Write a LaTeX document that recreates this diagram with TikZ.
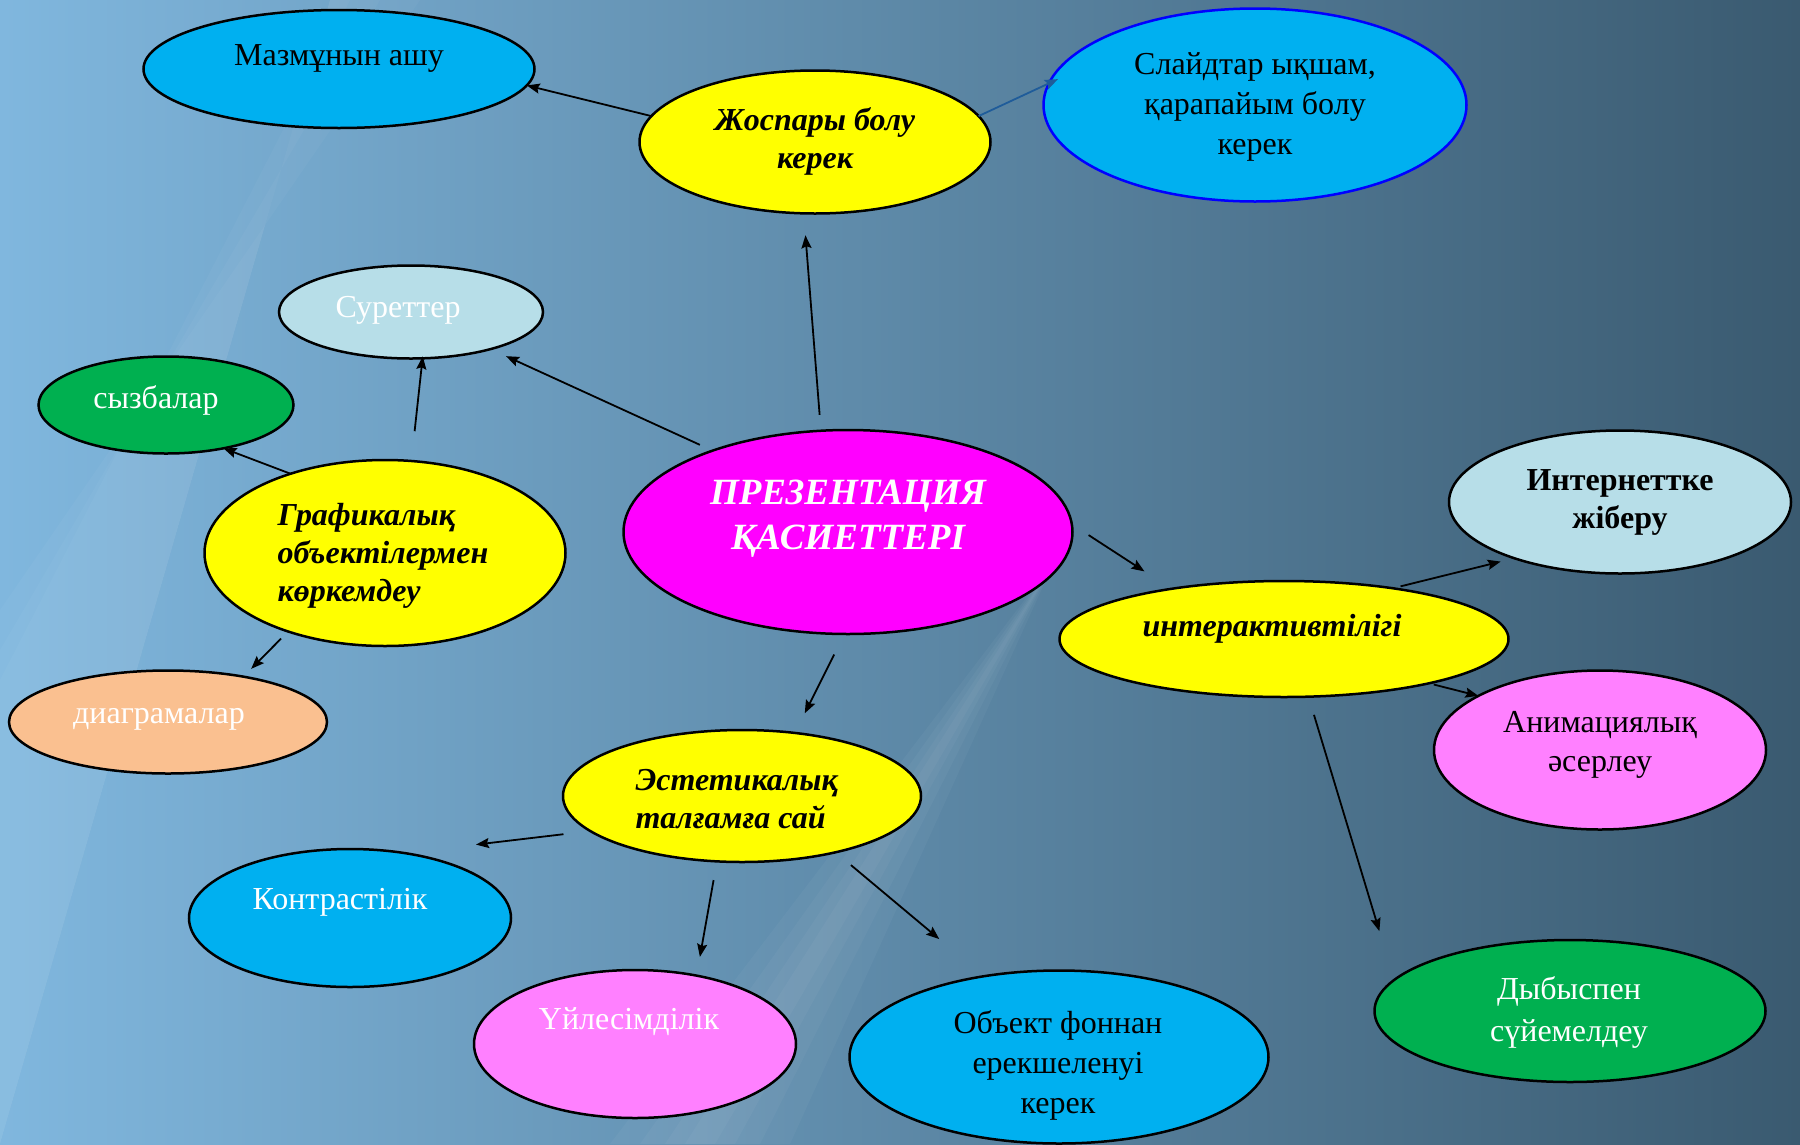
\documentclass[tikz,border=0pt]{standalone}
\usepackage{fontspec}
\setmainfont{Liberation Serif}
\usetikzlibrary{arrows.meta,shapes.geometric}

\definecolor{bgleft}{HTML}{80B7DE}
\definecolor{bgmid}{HTML}{5B87A5}
\definecolor{bgright}{HTML}{3A5A70}
\definecolor{skyfill}{HTML}{00B0F0}
\definecolor{sunfill}{HTML}{FFFF00}
\definecolor{rosefill}{HTML}{FF00FF}
\definecolor{icefill}{HTML}{B7DEE8}
\definecolor{leaffill}{HTML}{00B050}
\definecolor{peachfill}{HTML}{FAC090}
\definecolor{pinkfill}{HTML}{FF80FF}
\definecolor{steelline}{HTML}{1F5C9A}

\begin{document}
\begin{tikzpicture}[x=1pt,y=-1pt]
\tikzset{bubble/.style={ellipse,draw=black,line width=2.5pt,inner sep=0pt,outer sep=0pt}}
\tikzset{link/.style={-{Stealth[length=13pt,width=10pt,inset=2pt]},line width=1.8pt}}
\tikzset{plain/.style={font=\fontsize{32}{40}\selectfont,align=center}}
\tikzset{strong/.style={font=\fontsize{32}{38}\selectfont\bfseries\itshape,align=center}}

% background
\useasboundingbox (0,0) rectangle (1800,1144);
\shade[left color=bgleft,middle color=bgmid,right color=bgright] (0,0) rectangle (1800,1144);
\foreach \w in {15,35,60,90}
  \fill[white,opacity=0.035] (1055,560) -- ({700+\w},1144) -- ({700-\w},1144) -- cycle;
\foreach \w in {20,50,90}
  \fill[white,opacity=0.03] (0,1144) -- (0,{700-\w}) -- ({330+\w},0) -- (330,0) -- cycle;

% ellipses
\node[bubble,fill=skyfill,minimum width=391pt,minimum height=118pt] (mazm) at (339,69) {};
\node[bubble,fill=sunfill,minimum width=351pt,minimum height=143pt] (plan) at (815,142) {};
\node[bubble,draw=blue,fill=skyfill,minimum width=423pt,minimum height=193pt] (slide) at (1255,105) {};
\node[bubble,fill=icefill,minimum width=264pt,minimum height=93pt] (surr) at (411,312) {};
\node[bubble,fill=leaffill,minimum width=255pt,minimum height=97pt] (syzb) at (166,405) {};
\node[bubble,fill=sunfill,minimum width=361pt,minimum height=186pt] (graph) at (385,553) {};
\node[bubble,fill=rosefill,minimum width=449pt,minimum height=204pt] (prez) at (848,532) {};
\node[bubble,fill=peachfill,minimum width=318pt,minimum height=103pt] (diag) at (168,722) {};
\node[bubble,fill=sunfill,minimum width=449pt,minimum height=116pt] (inter) at (1284,639) {};
\node[bubble,fill=icefill,minimum width=342pt,minimum height=143pt] (web) at (1620,502) {};
\node[bubble,fill=pinkfill,minimum width=332pt,minimum height=159pt] (anim) at (1600,750) {};
\node[bubble,fill=sunfill,minimum width=358pt,minimum height=132pt] (est) at (742,796) {};
\node[bubble,fill=skyfill,minimum width=322pt,minimum height=138pt] (contr) at (350,918) {};
\node[bubble,fill=pinkfill,minimum width=322pt,minimum height=148pt] (uyl) at (635,1044) {};
\node[bubble,fill=skyfill,minimum width=419pt,minimum height=173pt] (obj) at (1059,1057) {};
\node[bubble,fill=leaffill,minimum width=391pt,minimum height=142pt] (dyb) at (1570,1011) {};

% texts
\node[plain] (mazm-t) at (339,58) {Мазмұнын ашу};
\node[strong] (plan-t) at (815,141) {Жоспары болу\\керек};
\node[plain] (slide-t) at (1255,107) {Слайдтар ықшам,\\қарапайым болу\\керек};
\node[plain,text=white] (surr-t) at (398,310) {Суреттер};
\node[plain,text=white] (syzb-t) at (156,400) {сызбалар};
\node[strong,align=left,anchor=west] (graph-t) at (274,556) {Графикалық\\объектілермен\\көркемдеу};
\node[text=white,font=\fontsize{37}{45}\selectfont\bfseries\itshape,align=center] (prez-t) at (848,519) {ПРЕЗЕНТАЦИЯ\\ҚАСИЕТТЕРІ};
\node[plain,text=white] (diag-t) at (159,719) {диаграмалар};
\node[strong] (inter-t) at (1272,629) {интерактивтілігі};
\node[plain,font=\fontsize{32}{38}\selectfont\bfseries] (web-t) at (1620,502) {Интернеттке\\жіберу};
\node[plain,font=\fontsize{32}{39}\selectfont] (anim-t) at (1600,745) {Анимациялық\\әсерлеу};
\node[strong,align=left,anchor=west] (est-t) at (632,799) {Эстетикалық\\талғамға сай};
\node[plain,text=white] (contr-t) at (340,902) {Контрастілік};
\node[plain,text=white] (uyl-t) at (629,1022) {Үйлесімділік};
\node[plain] (obj-t) at (1058,1065) {Объект фоннан\\ерекшеленуі\\керек};
\node[plain,text=white,font=\fontsize{32}{42}\selectfont] (dyb-t) at (1569,1012) {Дыбыспен\\сүйемелдеу};

% arrows
\draw[link] (plan.171) -- (mazm.-5);
\draw[link,draw=steelline,shorten >=-10pt] (plan.9) -- (slide.174);
\draw[link,shorten <=16pt,shorten >=22pt] (prez.105) -- (plan.261);
\draw[link,shorten <=14pt,shorten >=17pt] (prez.149) -- (surr.-25);
\draw[link,shorten <=30pt,shorten >=-2pt] (graph.74) -- (surr.-76);
\draw[link] (graph.140) -- (syzb.-37);
\draw[link,shorten <=10pt,shorten >=11pt] (graph.219) -- (diag.31);
\draw[link,shorten <=23pt,shorten >=22pt] (prez.268) -- (est.50);
\draw[link,shorten <=20pt,shorten >=32pt] (prez.2) -- (inter.156);
\draw[link,shorten <=8pt,shorten >=14pt] (inter.25) -- (web.208);
\draw[link,shorten <=5pt] (inter.-17) -- (anim.156);
\draw[link,shorten <=19pt,shorten >=51pt] (inter.-67) -- (dyb.170);
\draw[link,shorten <=27pt,shorten >=72pt] (est.193) -- (contr.50);
\draw[link,shorten <=19pt,shorten >=19pt] (est.249) -- (uyl.48);
\draw[link,shorten <=20pt,shorten >=58pt] (est.-31) -- (obj.133);
\end{tikzpicture}
\end{document}
